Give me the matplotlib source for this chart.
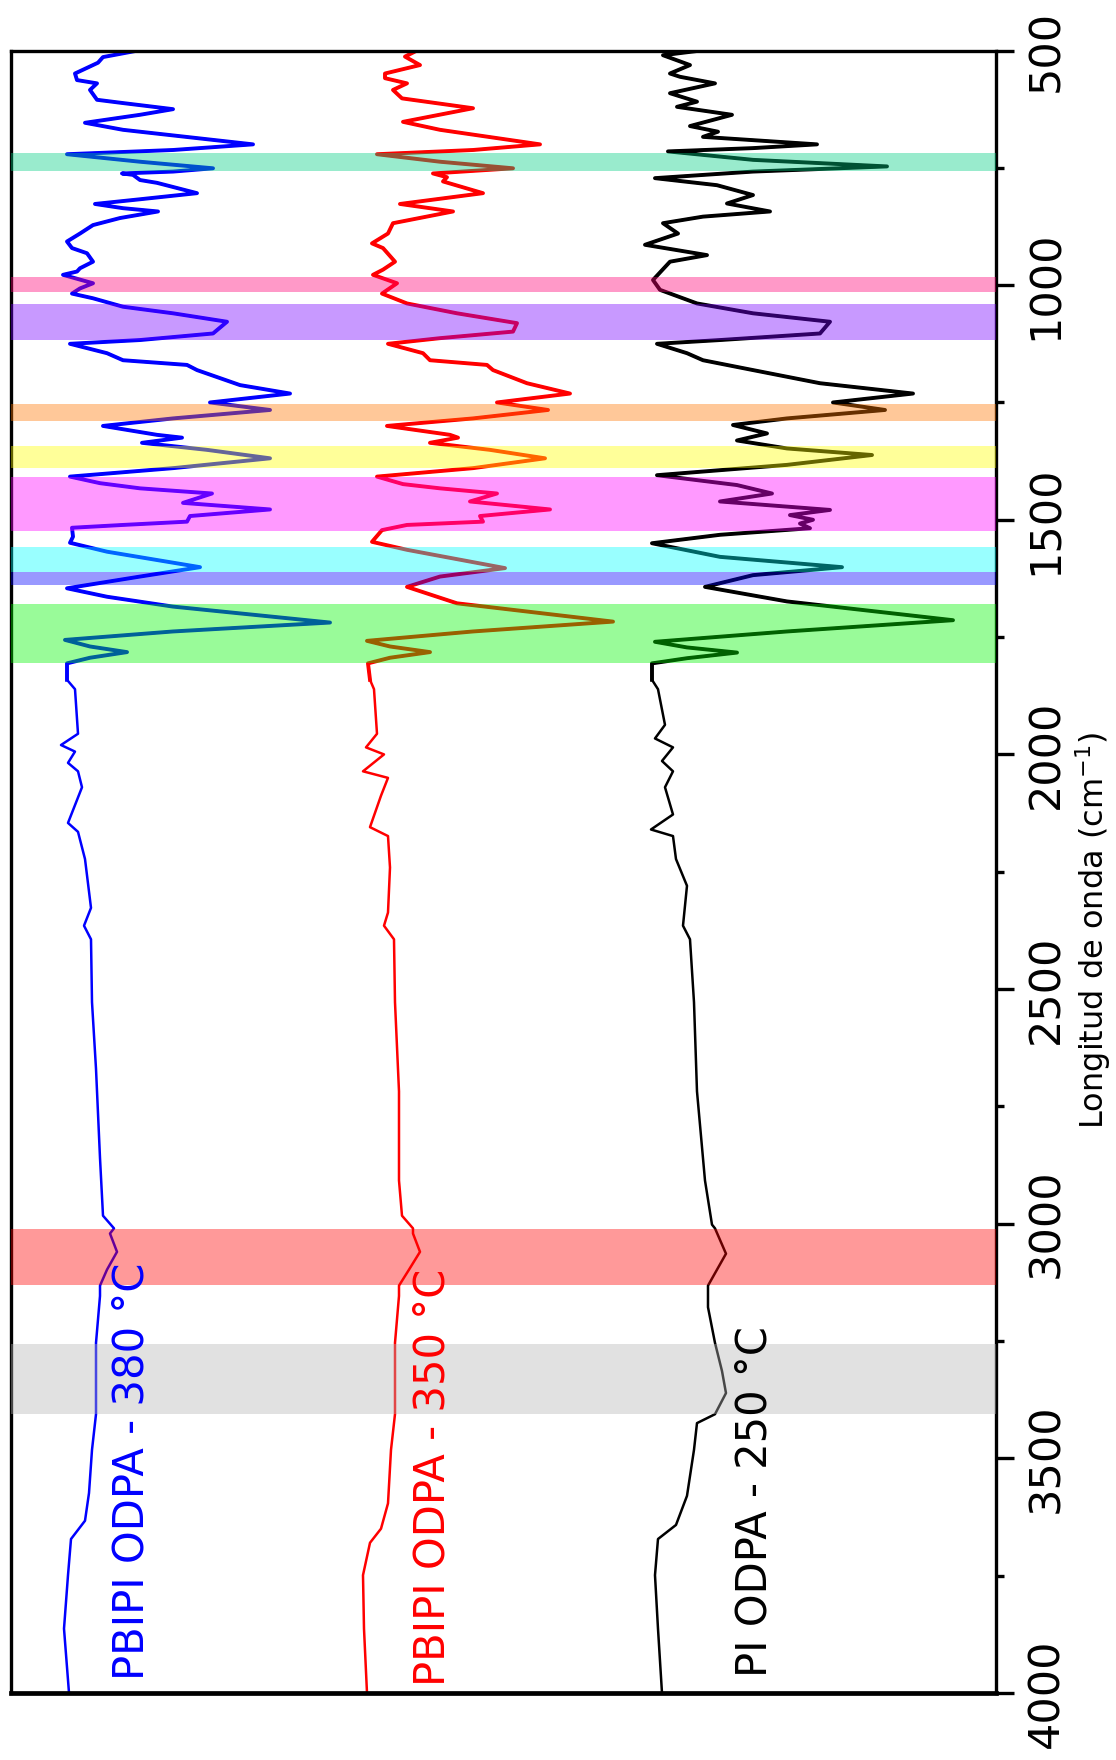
import matplotlib.pyplot as plt

plt.rcParams['font.family'] = ['DejaVu Sans']

# FTIR spectra, plotted rotated: wavenumber on the vertical axis,
# signal (arbitrary units, traces offset) on the horizontal axis
blue_wn = [500, 514, 526, 549, 563, 570, 584, 605, 612, 625, 637, 654, 669, 700, 712, 721,
           737, 751, 758, 762, 765, 776, 782, 804, 817, 827, 836, 843, 857, 872, 890, 907,
           921, 932, 950, 964, 971, 978, 996, 1007, 1018, 1028, 1046, 1060, 1078, 1103, 1117,
           1125, 1145, 1160, 1170, 1181, 1213, 1231, 1250, 1266, 1284, 1300, 1319, 1325,
           1336, 1351, 1369, 1390, 1408, 1422, 1433, 1444, 1464, 1478, 1492, 1504, 1511,
           1517, 1536, 1549, 1568, 1601, 1621, 1646, 1664, 1685, 1719, 1738, 1756, 1770,
           1782, 1794, 1806, 1841, 1861, 1956, 1980, 1994, 2018, 2036, 2070, 2146, 2165,
           2223, 2327, 2365, 2394, 2528, 2670, 2860, 2983, 3010, 3021, 3060, 3098, 3132,
           3154, 3254, 3406, 3482, 3574, 3633, 3672, 3749, 3863, 4000]
blue_val = [127, 92, 87, 64, 66, 86, 79, 86, 112, 162, 129, 74, 112, 242, 162, 56,
            129, 202, 162, 111, 122, 129, 146, 186, 129, 84, 112, 147, 109, 82, 69, 56,
            61, 76, 82, 69, 66, 52, 82, 69, 61, 82, 112, 162, 216, 202, 129,
            59, 96, 112, 176, 186, 229, 279, 199, 259, 162, 92, 146, 171,
            131, 196, 259, 162, 59, 89, 129, 201, 172, 259, 179, 176, 112,
            61, 62, 59, 96, 189, 129, 56, 96, 162, 319, 162, 54, 79,
            116, 79, 56, 56, 64, 67, 50, 64, 57, 67, 71, 57, 67,
            74, 80, 73, 80, 81, 85, 89, 92, 103, 99, 106, 96, 89,
            89, 85, 85, 81, 78, 74, 60, 57, 53, 58]

red_wn = [500, 513, 531, 549, 559, 570, 584, 602, 623, 652, 669, 700, 712, 721, 737, 751,
          762, 770, 779, 804, 827, 843, 868, 890, 911, 921, 950, 967, 978, 996, 1018, 1039,
          1060, 1081, 1099, 1113, 1125, 1145, 1160, 1170, 1181, 1209, 1231, 1250, 1266,
          1284, 1300, 1319, 1325, 1336, 1351, 1369, 1390, 1408, 1424, 1433, 1444, 1461,
          1478, 1492, 1504, 1511, 1522, 1547, 1564, 1603, 1621, 1643, 1678, 1717, 1738,
          1758, 1770, 1782, 1794, 1806, 1841, 1861, 1956, 1985, 2000, 2036, 2050, 2088,
          2155, 2174, 2241, 2337, 2365, 2394, 2528, 2718, 2908, 2983, 3010, 3021, 3060,
          3098, 3132, 3154, 3254, 3406, 3482, 3596, 3650, 3680, 3749, 3863, 4000]
red_val = [406, 394, 409, 374, 374, 396, 382, 391, 462, 392, 429, 529, 462, 366, 429, 502,
           422, 436, 432, 472, 389, 442, 382, 377, 361, 372, 384, 372, 362, 386, 371, 396,
           446, 506, 502, 429, 377, 412, 419, 476, 482, 516, 559, 486, 537,
           462, 376, 439, 447, 419, 479, 534, 462, 366, 392, 429, 486, 459,
           539, 469, 472, 396, 371, 361, 396, 494, 429, 396, 446, 602, 462,
           356, 379, 419, 379, 357, 359, 363, 366, 355, 373, 352, 377, 370,
           359, 377, 379, 377, 373, 383, 384, 388, 388, 391, 402, 402, 409,
           398, 388, 388, 384, 384, 380, 377, 370, 359, 352, 353, 356]

black_wn = [500, 510, 531, 549, 556, 570, 591, 609, 620, 637, 661, 673, 684, 700, 708, 715,
            733, 747, 758, 772, 787, 808, 826, 843, 854, 868, 890, 914, 936, 950, 989, 1010,
            1039, 1060, 1078, 1103, 1117, 1125, 1145, 1160, 1181, 1209, 1231, 1250, 1266,
            1284, 1298, 1316, 1331, 1348, 1362, 1383, 1405, 1426, 1444, 1461, 1479, 1490,
            1500, 1508, 1518, 1532, 1550, 1579, 1601, 1618, 1643, 1674, 1714, 1738, 1760,
            1772, 1783, 1795, 1806, 1841, 1861, 1937, 1966, 1985, 2014, 2036, 2070, 2128,
            2160, 2174, 2223, 2280, 2365, 2394, 2528, 2718, 2908, 3002, 3010, 3064, 3132,
            3178, 3254, 3314, 3361, 3406, 3425, 3482, 3580, 3642, 3672, 3749, 3863, 4000]
black_val = [690, 652, 679, 659, 669, 704, 659, 686, 666, 721, 679, 707, 692, 806, 742, 657,
             742, 876, 742, 644, 706, 742, 716, 759, 692, 652, 667, 634, 696, 659, 642, 649,
             686, 742, 819, 809, 709, 646, 676, 692, 742, 809, 902, 822, 874,
             776, 722, 756, 726, 776, 861, 776, 646, 726, 761, 709, 819, 779,
             802, 789, 799, 709, 641, 709, 831, 742, 694, 776, 942, 776, 644,
             676, 726, 676, 641, 641, 647, 654, 644, 662, 651, 662, 654, 662,
             640, 662, 665, 676, 672, 679, 683, 686, 694, 701, 704, 715, 697,
             697, 704, 711, 715, 704, 686, 683, 676, 665, 647, 644, 647, 651]

# highlighted absorption regions (cm-1)
band_lo = [718, 982, 1041, 1254, 1343, 1409, 1557, 1612, 1680, 3011, 3256]
band_hi = [756, 1014, 1117, 1289, 1390, 1523, 1611, 1639, 1806, 3131, 3406]
band_colors = ['#00CD82', '#FF0076', '#7600FF', '#FF7600', '#FFFF00', '#FF00FF',
               '#00FFFF', '#0000FF', '#00F500', '#FF0000', '#B4B4B4']

labels = ['PBIPI ODPA - 380 °C', 'PBIPI ODPA - 350 °C', 'PI ODPA - 250 °C']
label_pos = [(120, 3972), (422, 3985), (744, 3966)]

fig = plt.figure(figsize=(11.16, 17.6), dpi=100)
ax = fig.add_axes([0.00986, 0.0381, 0.8826, 0.9332])

for vals, wns, c in [(blue_val, blue_wn, '#0000FF'), (red_val, red_wn, '#FF0000'),
                     (black_val, black_wn, 'black')]:
    # whole trace thin, fingerprint region drawn heavier (as in the original)
    ax.plot(vals, wns, color=c, lw=1.8, zorder=2, solid_joinstyle='round')
    n = sum(1 for w in wns if w <= 1841)
    ax.plot(vals[:n], wns[:n], color=c, lw=2.8, zorder=2, solid_joinstyle='round')

for lo, hi, c in zip(band_lo, band_hi, band_colors):
    ax.axhspan(lo, hi, color=c, alpha=0.4, lw=0, zorder=3)

for txt, (x, y), c in zip(labels, label_pos, ['#0000FF', '#FF0000', 'black']):
    ax.text(x, y, txt, rotation=90, rotation_mode='anchor', ha='left', va='center',
            color=c, fontsize=30, zorder=4)

ax.set_xlim(0, 985)
ax.set_ylim(4000, 500)
ax.set_xticks([])
ax.yaxis.tick_right()
ax.set_yticks(range(500, 4001, 500))
ax.set_yticks(range(750, 4000, 500), minor=True)
ax.tick_params(axis='y', which='major', direction='out', length=13, width=2.4,
               labelsize=31, labelrotation=90, pad=8)
ax.tick_params(axis='y', which='minor', direction='out', length=6, width=2.4)
for lbl in ax.get_yticklabels():
    lbl.set_va('center')
for s in ax.spines.values():
    s.set_linewidth(2.4)
ax.spines['bottom'].set_linewidth(3.4)

fig.text(1093 / 1116, 1 - 930 / 1760, 'Longitud de onda (cm$^{-1}$)', rotation=90,
         ha='center', va='center', fontsize=23)

fig.savefig('out.png', dpi=100)
